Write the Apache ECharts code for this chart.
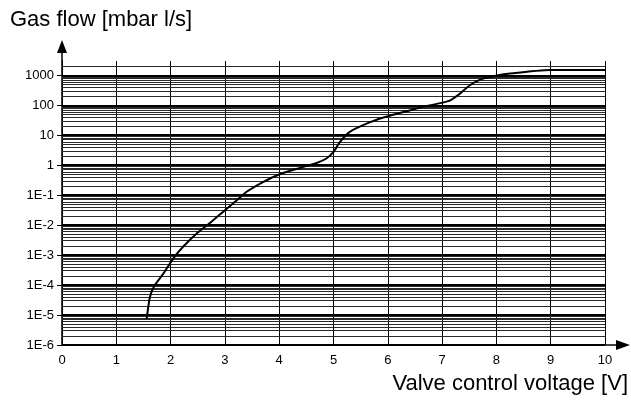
<!DOCTYPE html>
<html>
<head>
<meta charset="utf-8">
<script src="https://cdn.jsdelivr.net/npm/echarts@6/dist/echarts.min.js"></script>
<style>
  html, body { margin: 0; padding: 0; background: #fff; }
  #chart { width: 631px; height: 401px; }
</style>
</head>
<body>
<div id="chart"></div>
<script>
// valve control voltage [V]
const voltage = [1.56, 1.62, 1.71, 1.87, 2.05, 2.23, 2.48, 2.73, 3.0, 3.22, 3.4,
  3.71, 4.01, 4.38, 4.69, 4.87, 5.0, 5.12, 5.3, 5.61, 5.92, 6.22, 6.59, 6.99, 7.15,
  7.33, 7.51, 7.7, 7.94, 8.25, 8.99, 10];
// gas flow [mbar l/s]
const gasFlow = [7.5e-6, 4.1e-5, 1.0e-4, 2.45e-4, 7.8e-4, 1.9e-3, 5.3e-3, 0.012, 0.0316,
  0.068, 0.13, 0.28, 0.5, 0.81, 1.19, 1.67, 2.78, 6, 13, 24.5, 39, 55, 83, 120,
  146, 245, 464, 720, 925, 1140, 1500, 1500];

const decades = [1e-6, 1e-5, 1e-4, 1e-3, 1e-2, 1e-1, 1, 10, 100, 1000];
const minorSteps = [2, 3, 4, 5, 6, 7, 8, 9];
const yMin = 1e-6;
const yMax = 3000;

// grid lines are drawn on a hidden linear axis in log10 space
const minorLines = [];
decades.forEach(function (d) {
  minorSteps.forEach(function (m) {
    if (m * d < yMax * 0.999) minorLines.push(Math.log10(m * d));
  });
});

function fmtY(v) {
  if (v >= 1) return String(Math.round(v));
  return "1E" + Math.round(Math.log10(v));
}

const G = { left: 62, right: 26, top: 61, bottom: 56 };
const chart = echarts.init(document.getElementById("chart"));
const font = "Liberation Sans, Arial, sans-serif";

function hline(v, color, width) {
  return { yAxis: v, lineStyle: { color: color, width: width, type: "solid" } };
}

chart.setOption({
  animation: false,
  title: [
    { text: "Gas flow [mbar l/s]", left: 10, top: 9, padding: 0,
      textStyle: { fontFamily: font, fontSize: 22, fontWeight: "normal", color: "#000" } },
    { text: "Valve control voltage [V]", right: 3, top: 373, padding: 0,
      textStyle: { fontFamily: font, fontSize: 22, fontWeight: "normal", color: "#000" } }
  ],
  grid: G,
  xAxis: {
    type: "value",
    min: 0,
    max: 10,
    interval: 1,
    axisLine: { lineStyle: { color: "#000", width: 1.5 } },
    axisTick: { show: true, length: 4, inside: false, lineStyle: { color: "#000" } },
    axisLabel: { color: "#000", fontFamily: font, fontSize: 13, margin: 9 },
    splitLine: { show: true, lineStyle: { color: "#000", width: 1 } }
  },
  yAxis: [
    {
      type: "log",
      logBase: 10,
      min: yMin,
      max: yMax,
      axisLine: { show: true, lineStyle: { color: "#000", width: 1.5 } },
      axisTick: { show: true, length: 5, lineStyle: { color: "#000" }, customValues: decades },
      axisLabel: { color: "#000", fontFamily: font, fontSize: 13, margin: 8,
        customValues: decades, formatter: fmtY },
      splitLine: { show: false }
    },
    {
      type: "value",
      min: Math.log10(yMin),
      max: Math.log10(yMax),
      show: false,
      splitLine: { show: false }
    }
  ],
  series: [
    {
      type: "line",
      yAxisIndex: 1,
      data: [],
      silent: true,
      markLine: {
        silent: true,
        symbol: ["none", "none"],
        label: { show: false },
        animation: false,
        data: minorLines.map(function (v) { return hline(v, "#2a2a2a", 1); })
          .concat(decades.map(function (d) { return hline(Math.log10(d), "#000", 2); }))
          .concat([hline(Math.log10(yMax), "#000", 1)])
      }
    },
    {
      type: "line",
      data: voltage.map(function (x, i) { return [x, gasFlow[i]]; }),
      showSymbol: false,
      smooth: 0.2,
      lineStyle: { color: "#000", width: 2 },
      z: 5
    }
  ],
  graphic: [
    { type: "line", shape: { x1: G.left, y1: G.top, x2: G.left, y2: 50 },
      style: { stroke: "#000", lineWidth: 1.5 } },
    { type: "polygon", shape: { points: [[G.left, 40], [G.left - 5, 53], [G.left + 5, 53]] },
      style: { fill: "#000" } },
    { type: "line", shape: { x1: 631 - G.right, y1: 401 - G.bottom, x2: 620, y2: 401 - G.bottom },
      style: { stroke: "#000", lineWidth: 1.5 } },
    { type: "polygon", shape: { points: [[630, 345], [616, 340], [616, 350]] },
      style: { fill: "#000" } }
  ]
});
</script>
</body>
</html>
